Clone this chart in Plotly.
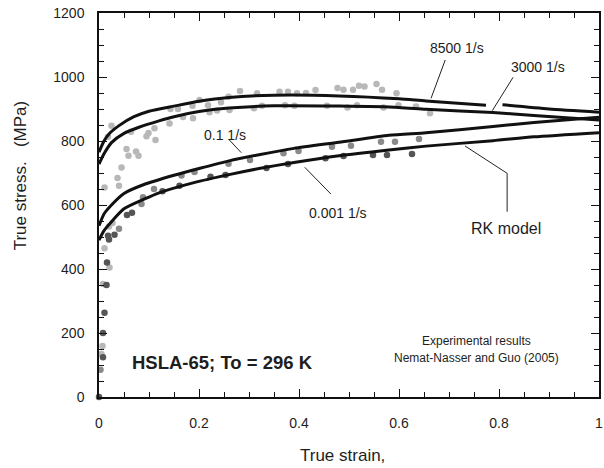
import plotly.graph_objects as go

# RK model curves (true strain, true stress MPa)
rk8500_x = [0.0, 0.01, 0.02, 0.04, 0.07, 0.10, 0.15, 0.20, 0.26, 0.35, 0.48, 0.60, 0.654, 0.774, None, 0.807, 0.90, 1.0]
rk8500_y = [765, 800, 822, 848, 876, 893, 909, 924, 936, 943, 941, 932, 925, 912, None, 913, 900, 890]

rk3000_x = [0.0, 0.01, 0.025, 0.05, 0.08, 0.12, 0.15, 0.20, 0.26, 0.35, 0.48, 0.60, 0.654, 0.788, 0.87, 1.0]
rk3000_y = [728, 760, 795, 824, 843, 863, 876, 892, 903, 910, 909, 905, 899, 889, 880, 866]

rk01_x = [0.0, 0.01, 0.025, 0.05, 0.09, 0.15, 0.20, 0.26, 0.32, 0.39, 0.48, 0.58, 0.654, 0.788, 0.87, 1.0]
rk01_y = [535, 572, 600, 636, 664, 693, 714, 738, 757, 777, 796, 818, 826, 845, 858, 874]

rk0001_x = [0.0, 0.01, 0.025, 0.05, 0.09, 0.12, 0.19, 0.26, 0.32, 0.39, 0.48, 0.58, 0.654, 0.788, 0.87, 1.0]
rk0001_y = [490, 520, 548, 588, 618, 638, 670, 695, 714, 733, 754, 772, 784, 801, 813, 826]

# Experimental points (Nemat-Nasser and Guo 2005)
high_x = [0.005, 0.007, 0.008, 0.021, 0.011, 0.020, 0.027, 0.011, 0.040, 0.037, 0.045, 0.055, 0.059, 0.074,
          0.079, 0.018, 0.025, 0.064, 0.095, 0.099, 0.113, 0.111, 0.141, 0.143, 0.158, 0.168, 0.187, 0.188,
          0.201, 0.218, 0.221, 0.236, 0.244, 0.259, 0.261, 0.282, 0.310, 0.316, 0.326, 0.361, 0.372, 0.378,
          0.391, 0.396, 0.414, 0.433, 0.456, 0.477, 0.489, 0.497, 0.508, 0.520, 0.531, 0.555, 0.566, 0.595,
          0.516, 0.569, 0.599, 0.634, 0.662]
high_y = [134, 159, 353, 405, 465, 533, 544, 655, 660, 684, 717, 775, 754, 767,
          754, 813, 848, 829, 815, 825, 803, 840, 855, 900, 900, 875, 910, 871,
          928, 912, 890, 895, 921, 938, 897, 956, 902, 949, 910, 954, 912, 954,
          910, 949, 950, 959, 910, 966, 960, 905, 960, 973, 970, 978, 960, 949,
          912, 905, 912, 908, 887]

mid_x = [0.003, 0.040, 0.085, 0.088, 0.110, 0.165, 0.191, 0.259, 0.302, 0.369, 0.399, 0.466, 0.504, 0.564, 0.592, 0.640]
mid_y = [85, 526, 603, 624, 650, 692, 703, 729, 741, 762, 769, 782, 785, 798, 798, 806]

low_x = [0.0, 0.008, 0.008, 0.011, 0.015, 0.016, 0.020, 0.018, 0.031, 0.056, 0.066, 0.127, 0.161, 0.223,
         0.253, 0.335, 0.378, 0.453, 0.489, 0.548, 0.576, 0.626]
low_y = [0, 124, 200, 263, 350, 420, 492, 504, 507, 569, 576, 643, 660, 688,
         694, 716, 728, 746, 753, 756, 756, 759]

x_ticks = [0, 0.2, 0.4, 0.6, 0.8, 1.0]
x_labels = ["0", "0.2", "0.4", "0.6", "0.8", "1"]
y_ticks = [0, 200, 400, 600, 800, 1000, 1200]

FONT = "Liberation Sans, Arial, sans-serif"
TXT = "#1e1e1e"

fig = go.Figure()

for xs, ys, col in [(high_x, high_y, "#b8b8b8"), (mid_x, mid_y, "#8a8a8a"), (low_x, low_y, "#555555")]:
    fig.add_trace(go.Scatter(x=xs, y=ys, mode="markers", cliponaxis=False,
                             marker=dict(size=6.5, color=col, line=dict(width=0)), showlegend=False))

for xs, ys in [(rk8500_x, rk8500_y), (rk3000_x, rk3000_y), (rk01_x, rk01_y), (rk0001_x, rk0001_y)]:
    fig.add_trace(go.Scatter(x=xs, y=ys, mode="lines", connectgaps=False,
                             line=dict(color="#111111", width=3, shape="spline", smoothing=0.6),
                             showlegend=False))

def px2d(px, py):
    return (px - 99.3) / 504.0, (397 - py) * 3.125

def seg(p1, p2, w=1):
    x0, y0 = px2d(*p1)
    x1, y1 = px2d(*p2)
    fig.add_shape(type="line", x0=x0, y0=y0, x1=x1, y1=y1, xref="x", yref="y",
                  line=dict(color="#222222", width=w))

seg((448.3, 60), (434, 98.3))
seg((516.7, 77.3), (495.7, 110.7))
seg((230.7, 140), (242.7, 152.7))
seg((306.7, 167.3), (333, 194))
seg((468.3, 146), (510.7, 173.3))
seg((510.7, 173.3), (510.7, 211.7))

def label(px, py, text, size, bold=False, anchor="center"):
    x, y = px2d(px, py)
    fig.add_annotation(x=x, y=y, xref="x", yref="y", text=("<b>%s</b>" % text) if bold else text,
                       showarrow=False, xanchor=anchor, yanchor="middle",
                       font=dict(family=FONT, size=size, color=TXT))

label(460, 48, "8500 1/s", 14)
label(541.7, 66.7, "3000 1/s", 14)
label(226.7, 135, "0.1 1/s", 14)
label(340, 213, "0.001 1/s", 14)
label(509.3, 228.3, "RK model", 16)
label(480, 341, "Experimental results", 12)
label(480, 358.3, "Nemat-Nasser and Guo (2005)", 12)
label(130.5, 362.5, "HSLA-65; To = 296 K", 18.5, bold=True, anchor="left")

fig.add_annotation(xref="paper", yref="paper", x=(345 - 99.3) / 504.0, y=(397 - 455) / 384.0,
                   text="True strain,", showarrow=False, xanchor="center", yanchor="middle",
                   font=dict(family=FONT, size=17, color=TXT))
fig.add_annotation(xref="paper", yref="paper", x=(20 - 99.3) / 504.0, y=(397 - 175) / 384.0,
                   text="True stress.&nbsp;&nbsp;&nbsp;(MPa)", textangle=-90, showarrow=False,
                   xanchor="center", yanchor="middle",
                   font=dict(family=FONT, size=17, color=TXT))

axis_common = dict(showline=True, linecolor="#111111", linewidth=1.5, mirror="allticks",
                   ticks="inside", ticklen=8, tickwidth=1, tickcolor="#111111",
                   showgrid=False, zeroline=False, ticklabeloverflow="allow",
                   tickfont=dict(family=FONT, size=14, color=TXT))

fig.update_xaxes(range=[0, 1], tickvals=x_ticks, ticktext=x_labels, ticklabelstandoff=12,
                 minor=dict(ticks="inside", ticklen=5, dtick=0.05, tickcolor="#111111", tickwidth=1, showgrid=False),
                 **axis_common)
fig.update_yaxes(range=[0, 1200], tickvals=y_ticks, ticklabelstandoff=10,
                 minor=dict(ticks="inside", ticklen=5, dtick=50, tickcolor="#111111", tickwidth=1, showgrid=False),
                 **axis_common)

fig.update_layout(width=604, height=468, margin=dict(l=99, r=1, t=13, b=71),
                  paper_bgcolor="white", plot_bgcolor="white",
                  font=dict(family=FONT, color=TXT))

fig.write_html("out.html")
